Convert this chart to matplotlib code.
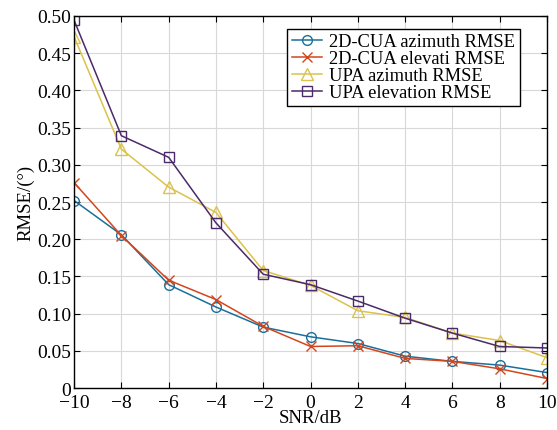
import numpy as np
import matplotlib
matplotlib.use('Agg')
import matplotlib.pyplot as plt

plt.rcParams['font.family'] = ['Liberation Serif', 'DejaVu Serif']
plt.rcParams['mathtext.fontset'] = 'stix'

snr = [-10, -8, -6, -4, -2, 0, 2, 4, 6, 8, 10]
cua_az = [0.252, 0.206, 0.139, 0.109, 0.082, 0.069, 0.060, 0.043, 0.036, 0.031, 0.021]
cua_el = [0.276, 0.205, 0.145, 0.119, 0.083, 0.056, 0.057, 0.040, 0.036, 0.026, 0.013]
upa_az = [0.472, 0.321, 0.270, 0.236, 0.158, 0.138, 0.104, 0.095, 0.074, 0.064, 0.041]
upa_el = [0.494, 0.339, 0.310, 0.222, 0.153, 0.139, 0.117, 0.094, 0.074, 0.056, 0.054]

labels = ['2D-CUA azimuth RMSE', '2D-CUA elevati RMSE', 'UPA azimuth RMSE', 'UPA elevation RMSE']

fig = plt.figure(figsize=(5.57, 4.31), dpi=100)
ax = fig.add_axes([0.133, 0.097, 0.849, 0.864])

ax.plot(snr, cua_az, '-o', color='#1a6f9c', mfc='none', ms=7, lw=1.1, label=labels[0])
ax.plot(snr, cua_el, '-x', color='#d2461e', ms=7, lw=1.1, label=labels[1])
ax.plot(snr, upa_az, '-^', color='#dcc24a', mfc='none', ms=8, lw=1.1, label=labels[2])
ax.plot(snr, upa_el, '-s', color='#4a2a6a', mfc='none', ms=6.5, lw=1.1, label=labels[3])

ax.set_xlim(-10, 10)
ax.set_ylim(0, 0.5)
ax.set_xticks(np.arange(-10, 11, 2))
ax.set_xticklabels([('\u2212%d' % -v) if v < 0 else '%d' % v for v in range(-10, 11, 2)])
yt = np.arange(0, 0.51, 0.05)
ax.set_yticks(yt)
ax.set_yticklabels(['0'] + ['%.2f' % v for v in yt[1:]])
ax.tick_params(direction='in', top=True, right=True, labelsize=14, length=4)
ax.tick_params(axis='y', pad=2)
ax.tick_params(axis='x', pad=4)
ax.grid(True, color='#d8d8d8', lw=0.8)
for s in ax.spines.values():
    s.set_linewidth(1.0)

ax.set_xlabel('SNR/dB', fontsize=13.5, labelpad=-1)
ax.set_ylabel('RMSE/(°)', fontsize=13.5, labelpad=2)

leg = ax.legend(loc='upper right', bbox_to_anchor=(0.95, 0.975), fontsize=13.3,
                frameon=True, fancybox=False, edgecolor='black', framealpha=1,
                handlelength=1.6, handletextpad=0.4, labelspacing=0.0, borderpad=0.25,
                borderaxespad=0.2)
leg.get_frame().set_linewidth(1.0)

fig.savefig('out.png', dpi=100)
